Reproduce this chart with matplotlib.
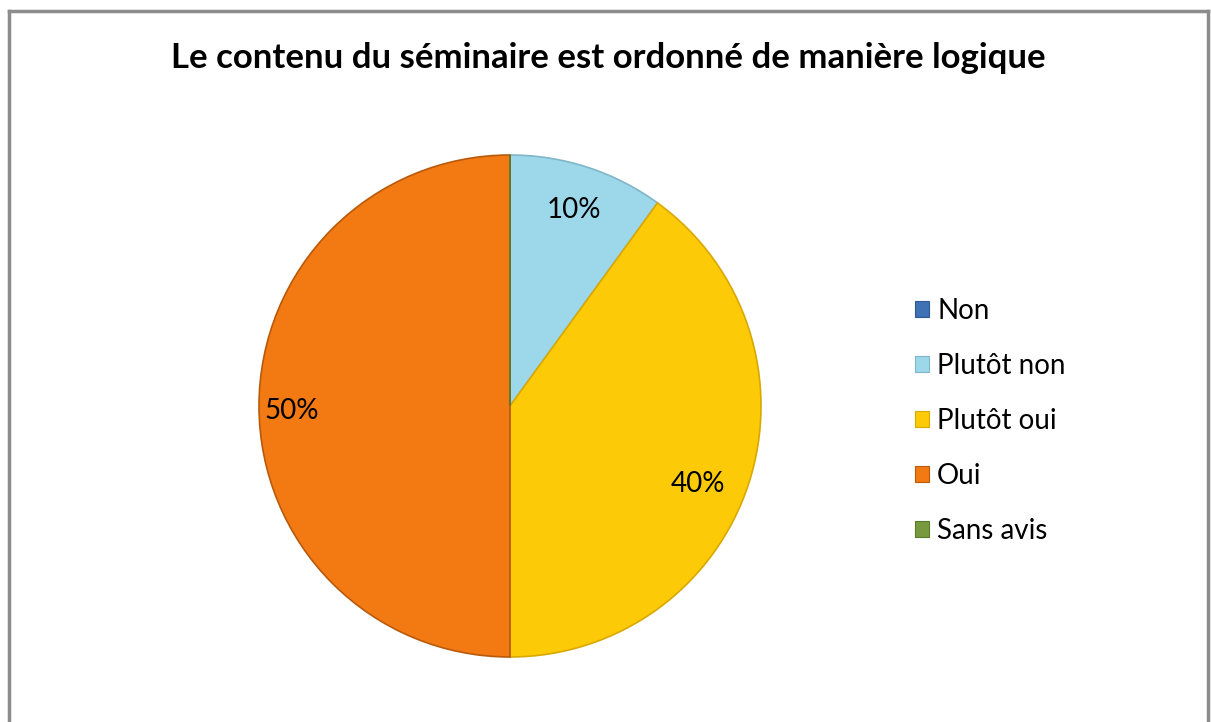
import matplotlib.pyplot as plt
from matplotlib.lines import Line2D

# Data
categories = ["Non", "Plutôt non", "Plutôt oui", "Oui", "Sans avis"]
shares = [0, 10, 40, 50, 0]
colors = ["#3E72B5", "#9DD8EA", "#FDCA08", "#F37A12", "#779A3E"]
edge_colors = ["#2C5A94", "#7FB6C8", "#D9A800", "#B85A0A", "#5A7A2C"]

plt.rcParams['font.family'] = ['Lato', 'DejaVu Sans']

fig = plt.figure(figsize=(12.11, 7.22), dpi=100)

# Outer chart frame (left, top, right; bottom is cut off)
W, H = 1211, 722
fx = lambda x: x / W
fy = lambda y: 1 - y / H
fig.add_artist(Line2D([fx(9), fx(9)], [fy(11), fy(722)], color="#8c8c8c", lw=2.5))
fig.add_artist(Line2D([fx(1208), fx(1208)], [fy(11), fy(722)], color="#8c8c8c", lw=2.5))
fig.add_artist(Line2D([fx(9), fx(1208)], [fy(11), fy(11)], color="#8c8c8c", lw=2.5))

fig.text(fx(608), fy(58), "Le contenu du séminaire est ordonné de manière logique",
         ha="center", va="center", fontsize=25, fontweight="bold", color="black")

# Pie axes: center (510, 406), radius ~251 px
r = 251
ax = fig.add_axes([fx(510 - r), fy(406 + r), 2 * r / W, 2 * r / H])
wedges, texts, autotexts = ax.pie(
    shares,
    colors=colors,
    startangle=90,
    counterclock=False,
    autopct=lambda p: f"{p:.0f}%" if p > 0 else "",
    pctdistance=0.82,
    wedgeprops=dict(linewidth=1.2, clip_on=False),
    textprops=dict(fontsize=20, color="black"),
)
for w, ec in zip(wedges, edge_colors):
    w.set_edgecolor(ec)
ax.set_xlim(-1, 1)
ax.set_ylim(-1, 1)
ax.set_aspect("equal")

# Excel's own label placement
autotexts[2].set_position((0.75, -0.31))
autotexts[3].set_position((-0.87, -0.02))

# Legend
handles = [plt.Rectangle((0, 0), 1, 1, facecolor=c, edgecolor=e, lw=0.8)
           for c, e in zip(colors, edge_colors)]
fig.legend(handles, categories, loc="center left",
           bbox_to_anchor=(fx(915), fy(421)), frameon=False,
           fontsize=20, handlelength=0.5, handleheight=0.5,
           handletextpad=0.3, labelspacing=1.04,
           borderpad=0, borderaxespad=0)

fig.savefig("out.png", dpi=100)
